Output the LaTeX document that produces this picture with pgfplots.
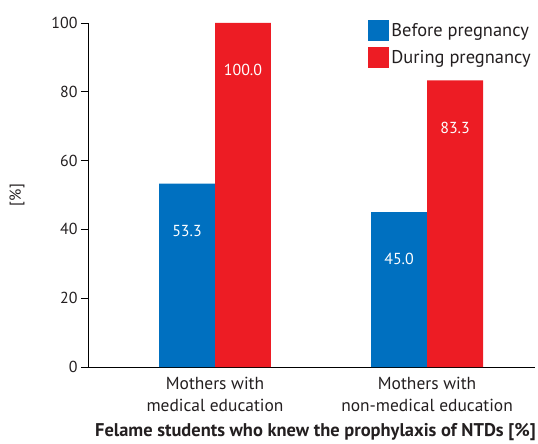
\documentclass[border=0pt]{standalone}
\usepackage{pgfplots}
\pgfplotsset{compat=1.18}
\usepackage{fontspec}
\setmainfont{PT Sans}
\definecolor{barblue}{RGB}{0,112,192}
\definecolor{barred}{RGB}{237,28,36}
\definecolor{txt}{RGB}{35,31,32}

\begin{document}
\begin{tikzpicture}[font=\fontsize{16}{19}\selectfont, text=txt]
\useasboundingbox (-88bp,-77bp) rectangle (450bp,367bp);
\begin{axis}[
    scale only axis,
    width=447bp, height=344bp,
    xmin=-0.599, xmax=1.509,
    ymin=0, ymax=100,
    axis x line*=bottom, axis y line*=left,
    axis line style={-, black, line width=0.9bp},
    ytick={0,20,...,100},
    xtick={0,1},
    xticklabels={Mothers with\\medical education, Mothers with\\non-medical education},
    xticklabel style={align=center, font=\fontsize{17.5}{22}\selectfont},
    x tick style={draw=none},
    tick align=outside,
    major tick length=7bp,
    y tick style={black, line width=0.9bp},
    /pgf/number format/assume math mode=true,
    ybar, bar width=0.264,
    nodes near coords={\pgfmathprintnumber[fixed,fixed zerofill,precision=1]{\pgfplotspointmeta}},
    every node near coord/.append style={white, anchor=center, yshift=-47bp,
        font=\fontsize{16}{18}\selectfont},
    xlabel={\bfseries Felame students who knew the prophylaxis of NTDs [\%]},
    xlabel style={at={(axis description cs:0.5,0)}, anchor=center, yshift=-65bp,
        xshift=4bp, font=\fontsize{18.5}{20}\selectfont},
    ylabel={[\%]},
    ylabel style={at={(axis description cs:0,0.5)}, anchor=center, yshift=71bp},
    legend style={draw=none, fill=none, at={(1,1)}, anchor=north east,
        yshift=3bp, xshift=-2bp, inner sep=0pt, row sep=6bp, cells={anchor=west},
        font=\fontsize{18.5}{20}\selectfont},
    legend image code/.code={\fill[#1] (0bp,-10.5bp) rectangle (21bp,10.5bp);},
]
\addplot[fill=barblue, draw=none, bar shift=-0.132] coordinates {(0,53.3) (1,45.0)};
\addplot[fill=barred, draw=none, bar shift=0.132] coordinates {(0,100.0) (1,83.3)};
\legend{Before pregnancy, During pregnancy}
\end{axis}
\end{tikzpicture}
\end{document}
